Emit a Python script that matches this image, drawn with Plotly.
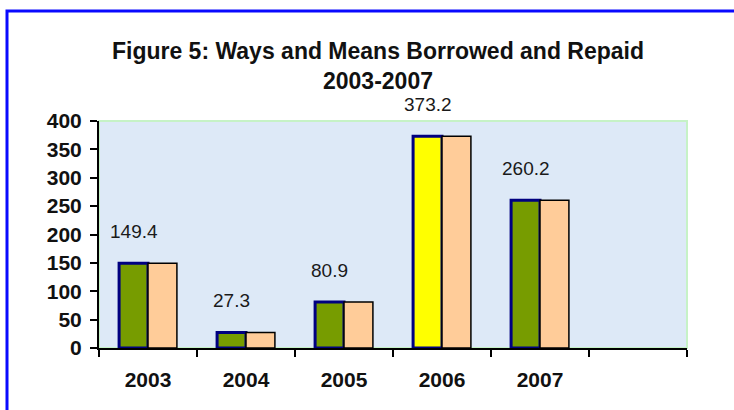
import plotly.graph_objects as go

# ---- data ----
CATEGORIES = ["2003", "2004", "2005", "2006", "2007", " "]
BORROWED = [149.4, 27.3, 80.9, 373.2, 260.2, None]
REPAID = [149.4, 27.3, 80.9, 373.2, 260.2, None]
LABELS = ["149.4", "27.3", "80.9", "373.2", "260.2"]
TITLE = "Figure 5: Ways and Means Borrowed and Repaid<br>2003-2007"
Y_TICKS = [0, 50, 100, 150, 200, 250, 300, 350, 400]

GREEN = "#779c00"
YELLOW = "#ffff00"
PEACH = "#ffcc99"
borrowed_colors = [YELLOW if c == "2006" else GREEN for c in CATEGORIES]

W, H = 734, 410
ML, MR, MT, MB = 99, 47, 121, 62
PW, PH = W - ML - MR, H - MT - MB

fig = go.Figure()
fig.add_trace(go.Bar(
    x=CATEGORIES, y=BORROWED, name="Borrowed",
    marker=dict(color=borrowed_colors, line=dict(color="#000080", width=3)),
))
fig.add_trace(go.Bar(
    x=CATEGORIES, y=REPAID, name="Repaid",
    marker=dict(color=PEACH, line=dict(color="#000000", width=1.5)),
))

# value labels above the borrowed bars
for i, (v, lab) in enumerate(zip(BORROWED, LABELS)):
    fig.add_annotation(
        x=i, y=v, text=lab, showarrow=False, xanchor="center", yanchor="middle",
        xshift=-14.5, yshift=32,
        font=dict(family="Liberation Sans, Arial", size=19, color="#1a1a1a"),
    )

# plot-area light green edge
fig.add_shape(type="rect", xref="paper", yref="paper", x0=0, x1=1, y0=0, y1=1,
              line=dict(color="#c6f2c6", width=2), fillcolor="rgba(0,0,0,0)", layer="below")
# blue outer frame
fig.add_shape(type="rect", xref="paper", yref="paper",
              x0=(7 - ML) / PW, x1=(W + 20 - ML) / PW,
              y0=(H - MB - (H + 20)) / PH, y1=(H - MB - 11) / PH,
              line=dict(color="#0a0aff", width=3), fillcolor="rgba(0,0,0,0)")

fig.update_layout(
    width=W, height=H,
    margin=dict(l=ML, r=MR, t=MT, b=MB),
    paper_bgcolor="white", plot_bgcolor="#dde9f7",
    barmode="group", bargap=0.41, bargroupgap=0,
    showlegend=False,
    title=dict(text=TITLE, x=378 / W, xanchor="center", xref="container",
               y=1 - 59 / H, yanchor="top", yref="container",
               font=dict(family="Liberation Sans, Arial", size=23, color="#111111", weight="bold")),
    font=dict(family="Liberation Sans, Arial", color="#111111"),
)
fig.update_xaxes(
    type="category", categoryorder="array", categoryarray=CATEGORIES,
    range=[-0.5, len(CATEGORIES) - 0.5],
    showline=True, linecolor="#000000", linewidth=2,
    ticks="outside", tickson="boundaries", ticklen=7, tickwidth=2, tickcolor="#000000",
    ticklabelstandoff=12,
    tickfont=dict(size=21, weight="bold", family="Liberation Sans, Arial", color="#111111"),
    showgrid=False, zeroline=False,
)
fig.update_yaxes(
    range=[0, 400], tickvals=Y_TICKS,
    showline=True, linecolor="#000000", linewidth=2,
    ticks="outside", ticklen=7, tickwidth=2, tickcolor="#000000",
    ticklabelstandoff=4,
    tickfont=dict(size=21, weight="bold", family="Liberation Sans, Arial", color="#111111"),
    showgrid=False, zeroline=False,
)

fig.write_html("out.html", config={"displayModeBar": False},
               post_script="document.body.style.margin='0';")
